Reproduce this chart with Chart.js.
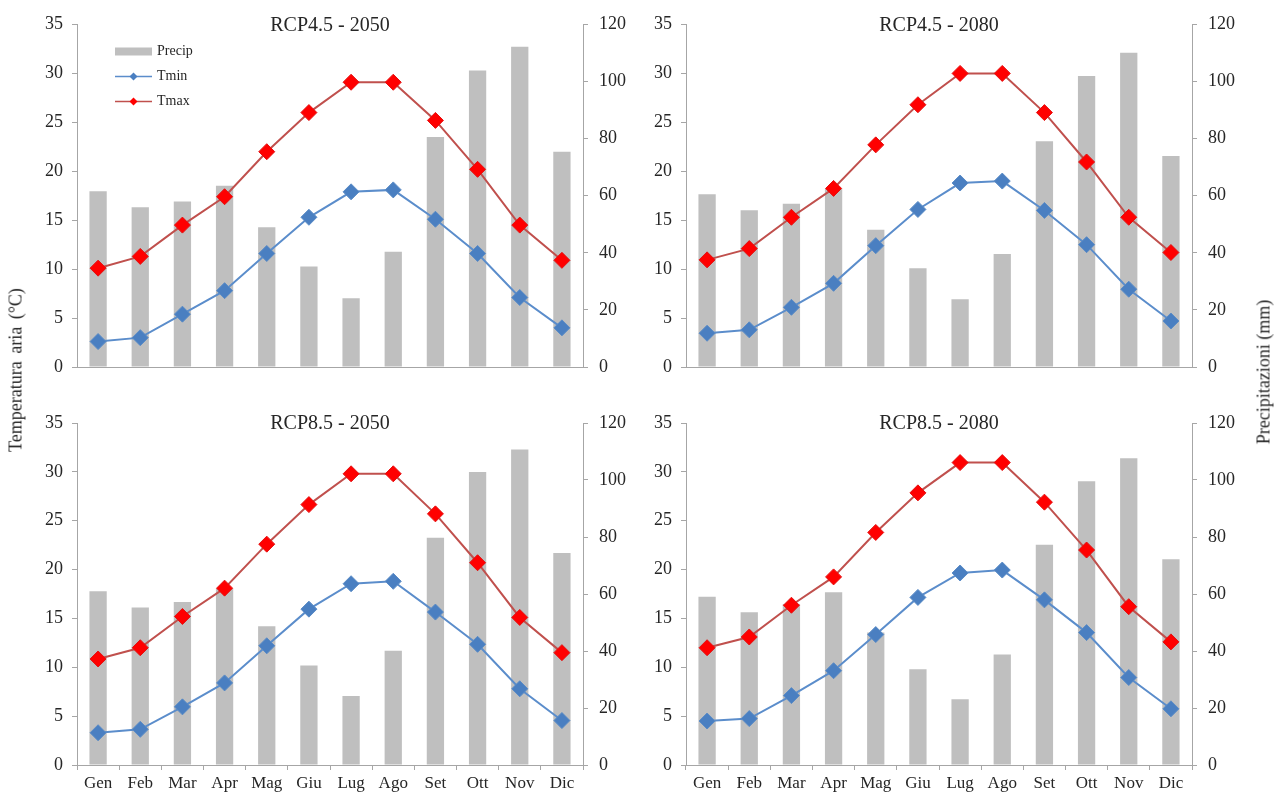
<!DOCTYPE html>
<html>
<head>
<meta charset="utf-8">
<script src="https://cdn.jsdelivr.net/npm/chart.js@4.4.1/dist/chart.umd.min.js"></script>
<style>
  html, body { margin: 0; padding: 0; background: #fff; }
  body { width: 1275px; height: 794px; position: relative; overflow: hidden; font-family: "Liberation Serif", serif; }
  canvas { position: absolute; }
  .axis-title {
    position: absolute;
    transform: translate(-50%, -50%) rotate(-90deg);
    white-space: nowrap;
    font-size: 18px;
    color: #262626;
  }
</style>
</head>
<body>
<canvas id="c1" width="640" height="400" style="left:0;top:0"></canvas>
<canvas id="c2" width="620" height="400" style="left:640px;top:0"></canvas>
<canvas id="c3" width="640" height="394" style="left:0;top:400px"></canvas>
<canvas id="c4" width="620" height="394" style="left:640px;top:400px"></canvas>
<div class="axis-title" style="left:16px;top:370px;word-spacing:3px">Temperatura aria (°C)</div>
<div class="axis-title" style="left:1264px;top:372px">Precipitazioni (mm)</div>
<script>
const months = ['Gen', 'Feb', 'Mar', 'Apr', 'Mag', 'Giu', 'Lug', 'Ago', 'Set', 'Ott', 'Nov', 'Dic']

// RCP4.5 - 2050
const precip45_50 = [61.6, 56.0, 58.0, 63.5, 49.0, 35.2, 24.1, 40.4, 80.6, 103.9, 112.2, 75.4]
const tmin45_50 = [2.6, 3.0, 5.4, 7.8, 11.6, 15.3, 17.9, 18.1, 15.1, 11.6, 7.1, 4.0]
const tmax45_50 = [10.1, 11.3, 14.5, 17.4, 22.0, 26.0, 29.1, 29.1, 25.2, 20.2, 14.5, 10.9]

// RCP4.5 - 2080
const precip45_80 = [60.5, 54.9, 57.2, 62.5, 48.1, 34.6, 23.7, 39.6, 79.1, 102.0, 110.1, 73.9]
const tmin45_80 = [3.45, 3.8, 6.1, 8.55, 12.4, 16.1, 18.8, 19.0, 16.0, 12.5, 7.95, 4.7]
const tmax45_80 = [10.95, 12.1, 15.3, 18.25, 22.7, 26.8, 30.0, 30.0, 26.0, 20.95, 15.3, 11.7]

// RCP8.5 - 2050
const precip85_50 = [61.0, 55.3, 57.2, 62.0, 48.7, 34.9, 24.2, 40.1, 79.7, 102.8, 110.7, 74.4]
const tmin85_50 = [3.3, 3.65, 5.95, 8.4, 12.2, 15.95, 18.55, 18.8, 15.65, 12.35, 7.8, 4.55]
const tmax85_50 = [10.85, 12.0, 15.2, 18.1, 22.6, 26.65, 29.8, 29.8, 25.7, 20.7, 15.1, 11.5]

// RCP8.5 - 2080
const precip85_80 = [59.0, 53.6, 56.5, 60.6, 46.5, 33.6, 23.1, 38.8, 77.3, 99.6, 107.6, 72.2]
const tmin85_80 = [4.5, 4.75, 7.1, 9.65, 13.35, 17.15, 19.65, 19.95, 16.9, 13.55, 8.95, 5.75]
const tmax85_80 = [12.0, 13.1, 16.35, 19.25, 23.8, 27.85, 30.95, 30.95, 26.9, 22.0, 16.2, 12.6]

// axis ranges / ticks
const tempMin = 0, tempMax = 35, tempStep = 5
const precipMin = 0, precipMax = 120, precipStep = 20

const FONT = 'Liberation Serif'
const TEXT = '#262626'
const AXIS = '#a6a6a6'
const BAR = '#bfbfbf'
const TMIN_LINE = '#5b8dcb'
const TMIN_PT = '#4a7fc1'
const TMAX_LINE = '#c0504d'
const TMAX_PT = '#ff0000'

/* ---- title drawn level with the top of the plot, like the original ---- */
const panelTitle = {
  id: 'panelTitle',
  afterDraw(chart, args, opts) {
    const { ctx, chartArea } = chart
    ctx.save()
    ctx.font = `20px ${FONT}`
    ctx.fillStyle = TEXT
    ctx.textAlign = 'center'
    ctx.textBaseline = 'middle'
    ctx.fillText(opts.text, (chartArea.left + chartArea.right) / 2, chartArea.top + 1)
    ctx.restore()
  }
}

/* ---- small vertical legend inside the first panel ---- */
const insideLegend = {
  id: 'insideLegend',
  afterDraw(chart, args, opts) {
    if (!opts.show) return
    const { ctx, chartArea } = chart
    const x = chartArea.left + 38
    let y = chartArea.top + 27
    ctx.save()
    ctx.font = `14px ${FONT}`
    ctx.textBaseline = 'middle'
    chart.data.datasets.slice().reverse().forEach(ds => {
      if (ds.type === 'bar') {
        ctx.fillStyle = ds.backgroundColor
        ctx.fillRect(x, y - 4, 37, 8)
      } else {
        ctx.strokeStyle = ds.borderColor
        ctx.lineWidth = 1.5
        ctx.beginPath()
        ctx.moveTo(x, y)
        ctx.lineTo(x + 37, y)
        ctx.stroke()
        ctx.fillStyle = ds.pointBackgroundColor
        const cx = x + 18.5, r = 4
        ctx.beginPath()
        ctx.moveTo(cx, y - r); ctx.lineTo(cx + r, y); ctx.lineTo(cx, y + r); ctx.lineTo(cx - r, y)
        ctx.closePath()
        ctx.fill()
      }
      ctx.fillStyle = TEXT
      ctx.fillText(ds.label, x + 42, y)
      y += 25
    })
    ctx.restore()
  }
}

function makePanel(id, title, precip, tmin, tmax, cfg) {
  const ctx = document.getElementById(id)
  return new Chart(ctx, {
    data: {
      labels: months,
      datasets: [
        {
          type: 'line',
          label: 'Tmax',
          data: tmax,
          yAxisID: 'y',
          borderColor: TMAX_LINE,
          borderWidth: 2,
          pointStyle: 'rectRot',
          pointRadius: 8,
          pointBackgroundColor: TMAX_PT,
          pointBorderColor: '#e41010',
          pointBorderWidth: 1,
          tension: 0,
          order: 1,
        },
        {
          type: 'line',
          label: 'Tmin',
          data: tmin,
          yAxisID: 'y',
          borderColor: TMIN_LINE,
          borderWidth: 2,
          pointStyle: 'rectRot',
          pointRadius: 8,
          pointBackgroundColor: TMIN_PT,
          pointBorderColor: '#5a8bc6',
          pointBorderWidth: 1,
          tension: 0,
          order: 2,
        },
        {
          type: 'bar',
          label: 'Precip',
          data: precip,
          yAxisID: 'y1',
          backgroundColor: BAR,
          barPercentage: 0.41,
          categoryPercentage: 1,
          order: 3,
        },
      ]
    },
    options: {
      responsive: false,
      animation: false,
      layout: { padding: { top: cfg.top, left: 0, right: 0, bottom: 0 } },
      plugins: {
        legend: { display: false },
        tooltip: { enabled: false },
        panelTitle: { text: title },
        insideLegend: { show: !!cfg.legend },
      },
      scales: {
        x: {
          offset: true,
          border: { display: true, color: AXIS, width: 1 },
          grid: {
            display: true,
            offset: true,
            drawOnChartArea: false,
            drawTicks: cfg.months,
            tickLength: 5,
            color: AXIS,
          },
          ticks: {
            display: cfg.months,
            color: TEXT,
            font: { family: FONT, size: 17 },
            padding: 3,
            maxRotation: 0,
            autoSkip: false,
          },
          afterFit: (s) => { s.height = cfg.xHeight },
        },
        y: {
          position: 'left',
          min: tempMin,
          max: tempMax,
          border: { display: true, color: AXIS, width: 1 },
          grid: { display: true, drawOnChartArea: false, tickLength: 5, color: AXIS },
          ticks: {
            stepSize: tempStep,
            color: TEXT,
            font: { family: FONT, size: 18 },
            padding: 9,
          },
          afterFit: (s) => { s.width = cfg.leftW },
        },
        y1: {
          position: 'right',
          min: precipMin,
          max: precipMax,
          border: { display: true, color: AXIS, width: 1 },
          grid: { display: true, drawOnChartArea: false, tickLength: 5, color: AXIS },
          ticks: {
            stepSize: precipStep,
            color: TEXT,
            font: { family: FONT, size: 18 },
            padding: 11,
          },
          afterFit: (s) => { s.width = cfg.rightW },
        },
      }
    },
    plugins: [panelTitle, insideLegend]
  })
}

makePanel('c1', 'RCP4.5 - 2050', precip45_50, tmin45_50, tmax45_50,
  { top: 24.5, xHeight: 33, leftW: 77, rightW: 57, months: false, legend: true })
makePanel('c2', 'RCP4.5 - 2080', precip45_80, tmin45_80, tmax45_80,
  { top: 24.5, xHeight: 33, leftW: 46, rightW: 68, months: false })
makePanel('c3', 'RCP8.5 - 2050', precip85_50, tmin85_50, tmax85_50,
  { top: 23, xHeight: 29, leftW: 77, rightW: 57, months: true })
makePanel('c4', 'RCP8.5 - 2080', precip85_80, tmin85_80, tmax85_80,
  { top: 23, xHeight: 29, leftW: 46, rightW: 68, months: true })
</script>
</body>
</html>
